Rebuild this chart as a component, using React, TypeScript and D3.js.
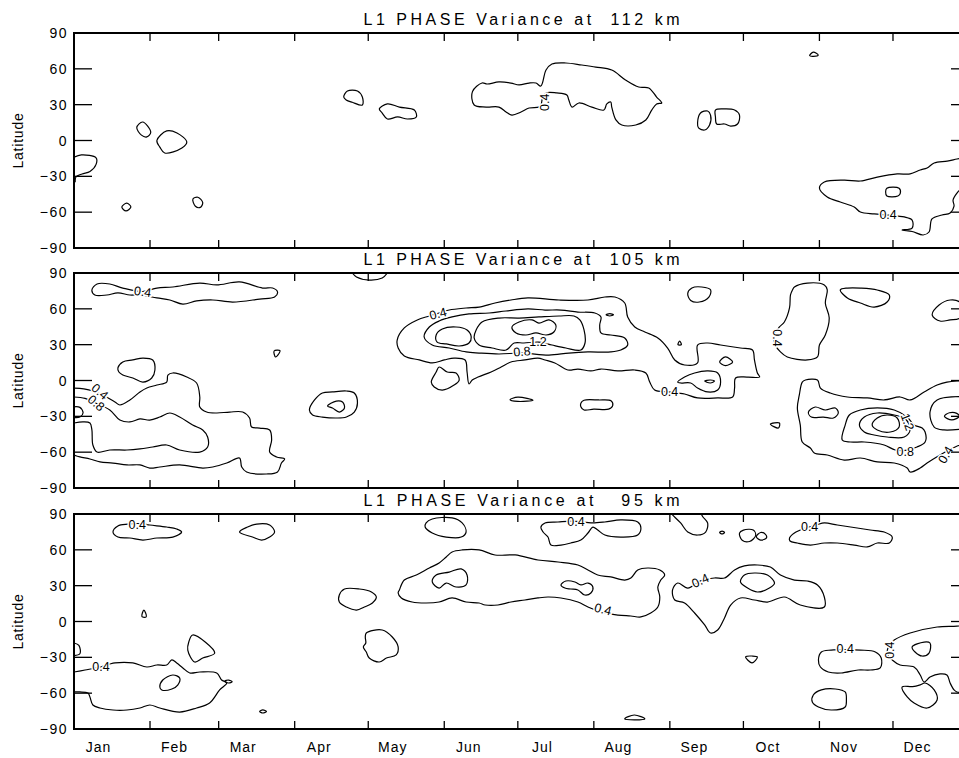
import React from 'react';
import * as d3 from 'd3';

type Pt = [number, number];
interface Contour { pts: Pt[]; open?: boolean }
interface Label { text: string; day: number; lat: number; angle: number }

const monthNames = ['Jan', 'Feb', 'Mar', 'Apr', 'May', 'Jun', 'Jul', 'Aug', 'Sep', 'Oct', 'Nov', 'Dec'];
const monthStarts = [0, 31, 59, 90, 120, 151, 181, 212, 243, 273, 304, 334];
const latTicks = [90, 60, 30, 0, -30, -60, -90];

// contours as [day of year, latitude]
const contours112: Contour[] = [
  { open: true, pts: [[0, -14], [3, -12], [9, -14.5], [9, -20], [6.5, -26], [3.3, -28], [0.8, -30.5], [0.5, -35]] },
  { pts: [[25.6, 11], [28, 15.5], [31.3, 7], [29.7, 3], [27.5, 4.5]] },
  { pts: [[33.8, 0], [37.8, 8], [42, 6.3], [46, -1.3], [44, -6.3], [37, -10.5], [35, -5.5]] },
  { pts: [[19.5, -55.7], [21.5, -52.5], [23.2, -55.7], [21.2, -59]] },
  { pts: [[48.5, -49], [50.5, -47.5], [52.5, -52], [51.5, -56], [49.5, -55]] },
  { pts: [[110, 36.4], [111.5, 41.4], [115.6, 41.4], [117.6, 36.4], [117.6, 29.7], [113.5, 32], [111, 34]] },
  { pts: [[124.5, 26.4], [127.8, 30.6], [132.7, 28], [138.8, 25.5], [139.6, 19.7], [136, 18], [132, 19.7], [127.8, 18], [125.7, 23]] },
  { pts: [[162.5, 40.9], [166.4, 48.1], [168.5, 47.3], [173.3, 49], [178.2, 48.1], [181.5, 46.5], [185.6, 48.1], [188.4, 48.1], [190.4, 45.6], [192.5, 59], [194.9, 64], [200.6, 64.9], [207.1, 63.2], [212.8, 61.5], [219.3, 59], [224.9, 50.7], [230.3, 44.8], [234.4, 44], [237.6, 36.4], [239.7, 31.4], [237.6, 30.6], [235.6, 25.5], [233.2, 17.2], [229.1, 13], [223.4, 13], [221, 17.2], [219.3, 28], [218.9, 32.2], [217.3, 30.6], [216.1, 25.5], [211.2, 28], [205.9, 31.4], [203.1, 28], [201.8, 33.9], [201, 38.1], [196.9, 39.8], [192.5, 39.8], [191, 35], [190.5, 30], [189.6, 28], [185.6, 27.2], [182.3, 23.9], [178.6, 21.3], [176.2, 23.9], [173.3, 28], [168.1, 28], [163.2, 29.7]] },
  { pts: [[254.3, 14.7], [255.5, 23], [258.4, 24.7], [259.6, 21.3], [259.2, 13], [257.2, 8.8], [254.7, 10.5]] },
  { pts: [[261.6, 25.5], [265.3, 26.4], [269.4, 25.5], [271.4, 21.3], [270.6, 13.8], [267.8, 12.1], [265.3, 13.8], [262.1, 13.8], [261.6, 19.7]] },
  { pts: [[300, 71], [301.5, 74], [303.5, 71.5], [301.5, 70.5]] },
  { open: true, pts: [[365, -13.5], [360.1, -15.5], [356.1, -17.2], [350.8, -18.8], [347.9, -23], [345.1, -24.7], [341, -28], [335.7, -28], [327.6, -30.6], [320.7, -33.9], [314.1, -33.1], [306, -34.7], [304, -39.8], [307.2, -47.3], [312.5, -51.5], [318.2, -55.7], [320.7, -59.9], [326.3, -61.5], [332, -62.5], [338.6, -64], [341.8, -66.6], [341.8, -73.3], [337.7, -74.9], [341.8, -76.2], [346.3, -79.1], [348.7, -76.6], [349.9, -65.7], [354, -62.4], [357.3, -60.7], [358.9, -55], [358.5, -49.8], [360.1, -44], [361.3, -41.4], [365, -39]] },
  { pts: [[331.5, -40], [336.5, -40], [337, -44], [336, -46.5], [331.5, -46.5], [331, -43]] },
];
const labels112: Label[] = [
  { text: '0.4', day: 192, lat: 32, angle: -90 },
  { text: '0.4', day: 332, lat: -62.5, angle: 0 },
];

const contours105: Contour[] = [
  { pts: [[7.3, 75.8], [9.4, 80.8], [14.6, 80.8], [19.9, 77.4], [28, 74.5], [33.8, 77.4], [40.3, 78.3], [51.3, 81.6], [58.2, 80], [67.5, 82.5], [76.9, 77.4], [81, 77.4], [83, 74.1], [81.8, 69.9], [75.7, 68.2], [64.7, 65.7], [56.6, 67.4], [50, 66.6], [44.4, 64], [39.1, 67.4], [33.8, 69.1], [26.9, 71.6], [22.8, 71.6], [17.9, 73.3], [13.4, 71.6], [8.5, 71.6]] },
  { open: true, pts: [[113.5, 90], [115.2, 86.7], [120.4, 84.1], [125.7, 85.8], [127.8, 90]] },
  { pts: [[81.6, 24.7], [84, 25], [83.2, 21.5], [82.2, 19.7]] },
  { pts: [[17.9, 10.5], [19.9, 15.5], [24, 17.2], [28.1, 18.8], [32.1, 17.2], [33, 8.8], [31.7, 2.1], [28.1, -1.3], [24, 2.1], [19.9, 4.6], [18.3, 7.1]] },
  { open: true, pts: [[0, -6.3], [4, -7], [8, -9], [12, -12.5], [16.7, -18], [18.7, -20.5], [22.8, -16.3], [26.9, -9.6], [29.7, -6.3], [33.8, -3.8], [37.8, -1.3], [38.3, 4.6], [40.3, 6.3], [46, 2.9], [50, -2.1], [51.3, -13.8], [51.3, -22.2], [54.1, -26.4], [58.2, -27.2], [63.5, -26.4], [68.8, -26.4], [71.6, -31.4], [72.4, -38.9], [75.7, -39.8], [79.8, -41.4], [80.6, -49.8], [79.8, -59.9], [82.6, -64], [85.9, -65.7], [84.6, -69.1], [83, -76.6], [78.5, -78.3], [70.4, -76.6], [68.4, -72.4], [67.5, -64.9], [62.3, -69.1], [56.6, -72.4], [52.5, -73.3], [43.1, -70.7], [35, -72.4], [30.9, -73.3], [26.9, -70.7], [21.6, -70.7], [15.9, -69.1], [10.6, -68.2], [6.5, -65.7], [2.4, -64], [0, -62.4]] },
  { open: true, pts: [[0, -13.8], [4.5, -15], [9, -19], [14.6, -24.7], [18.7, -33.1], [22.8, -34.7], [26.9, -32.2], [30.9, -33.1], [35, -30.6], [39.1, -27.2], [43.1, -30.6], [48.4, -37.3], [52.5, -41.4], [54.5, -47.3], [54.5, -55.7], [51.3, -59.9], [43.1, -58.2], [37.8, -54], [32.1, -55.7], [26.9, -57.3], [21.6, -58.2], [14.6, -58.2], [9.4, -59.9], [7.7, -54], [7.3, -41.4], [6.5, -35.6], [3.7, -34.7], [0, -35.6]] },
  { open: true, pts: [[0, -22], [2.4, -22.5], [3.7, -27], [2.4, -30.6], [0, -31]] },
  { pts: [[96, -24.7], [98.1, -16.3], [101.3, -10.5], [105.4, -9.6], [111.1, -8.8], [114.3, -10.5], [115.6, -18.8], [114.3, -26.4], [111.1, -30.6], [107, -31.4], [101.3, -30.6], [97.3, -28.9]] },
  { pts: [[103.4, -21.4], [107, -17.2], [109.5, -18], [110.3, -23], [108.2, -26.4], [105.4, -23]] },
  { pts: [[131.8, 33.9], [134.7, 44], [140, 50.7], [144.9, 54], [148.9, 56.5], [153, 59], [159.9, 60.7], [165.2, 61.5], [171.7, 64.9], [178.2, 67.4], [185.1, 69.1], [197.8, 67.4], [209.6, 67.4], [216.5, 69.9], [220.6, 69.9], [224.6, 64.9], [225.8, 53.2], [228.7, 44.8], [232.8, 40.6], [238.1, 35.6], [242.1, 27.2], [245, 17.2], [249, 13], [254.3, 14.7], [254.3, 29.7], [258.4, 31.4], [263.7, 29.7], [271.8, 27.2], [276.7, 25.5], [277.5, 17.2], [278.7, 6.3], [279.6, 2.9], [274.7, 2.9], [269.8, 2.1], [269.4, -6.3], [268.6, -13.8], [262.5, -14.6], [254.3, -14.6], [249, -11.3], [242.5, -9.6], [236.8, -8], [234.8, -1.3], [233.2, 6.3], [228.7, 8.8], [221.8, 8], [214.9, 9.6], [210.8, 8], [205.5, 9.6], [201.4, 8.8], [196.1, 14.7], [192.1, 17.2], [189.2, 18.8], [183.9, 17.2], [178.2, 15.5], [174.2, 11.3], [170.1, 7.1], [164.8, 2.9], [162.4, 0.4], [161.1, -2.9], [160.3, 7.1], [159.5, 17.2], [155, 18.8], [151, 17.2], [146.1, 14.7], [140.8, 17.2], [134.7, 20.5], [132.2, 27.2]] },
  { pts: [[142.8, 36.4], [144.9, 44.8], [148.9, 49.8], [154.2, 53.2], [161.1, 55.7], [169.3, 56.5], [176.2, 58.2], [185.1, 59.9], [192.1, 59], [198.6, 59], [205.5, 57.3], [212.4, 56.5], [214.9, 53.2], [214.4, 46.5], [214.9, 39.8], [218.9, 38.1], [224.6, 35.6], [225.8, 29.7], [223, 25.5], [218.9, 23.9], [209.6, 23.9], [201.8, 23], [193.7, 21.3], [182.7, 23], [173.3, 22.2], [165.2, 23], [159.9, 23.9], [153, 27.2], [146.1, 29.7]] },
  { pts: [[147.7, 38.1], [150.2, 43.1], [155.8, 44.8], [160.3, 42.3], [162, 36.4], [161.1, 31.4], [157.1, 28.9], [151.8, 30.6], [148.1, 32.2]] },
  { pts: [[163.2, 35.6], [164, 42.3], [166.4, 49], [173.3, 52.3], [181.5, 52.3], [189.6, 53.2], [197.8, 54], [203.9, 54], [206.3, 50.7], [208, 42.3], [208.4, 31.4], [206.7, 25.5], [200.6, 27.2], [194.9, 29.7], [189.6, 32.2], [183.5, 31.4], [179.5, 31.4], [176.2, 25.5], [170.5, 27.2], [165.2, 29.7]] },
  { pts: [[178.6, 44.8], [181.5, 49], [186.8, 50.7], [189.6, 48.1], [193.7, 50.7], [196.5, 46.5], [195.7, 40.6], [192.5, 38.1], [188.4, 39.8], [184.3, 38.1], [180.3, 39.8]] },
  { pts: [[145.7, -1.3], [147.7, 7.1], [148.9, 11.3], [152.2, 7.1], [155.8, 6.3], [157.1, 0.4], [155, -3.8], [150.2, -8], [146.9, -5.4]] },
  { pts: [[246.3, 30], [247, 33], [247.7, 30]] },
  { pts: [[217, 55], [218.5, 56], [220, 55], [218.5, 54]] },
  { pts: [[246.2, -1.3], [249, 2.9], [253.1, 6.3], [258.4, 8], [262.5, 6.3], [263.7, -1.3], [262.5, -8], [258.4, -9.6], [254.3, -6.3], [251.5, -2.1], [247.4, -2.1]] },
  { pts: [[257.2, -0.5], [259.5, 0.4], [261.2, -0.5], [259.5, -2.1]] },
  { pts: [[263.3, 15.5], [265.7, 19.7], [268.6, 15.5], [265.7, 12.5]] },
  { pts: [[177.8, -16], [181, -14], [187.2, -16.5], [181, -17.5]] },
  { pts: [[206.7, -19], [208, -16.5], [214, -16.3], [219, -17], [219.7, -21], [218, -24], [212, -24], [208, -24.7], [206.7, -22]] },
  { pts: [[250.3, 73], [252, 77.5], [256, 78.3], [259.6, 76], [259, 70], [255, 65.7], [251.5, 67]] },
  { pts: [[284, -36.5], [287.7, -35.6], [287.3, -39.8]] },
  { pts: [[293.8, 78.3], [299.1, 81.6], [306, 80], [307.2, 75.8], [306.4, 64.9], [308, 52.3], [306.4, 38.1], [304, 29.7], [303.2, 19.7], [299.1, 17.2], [290.9, 19.7], [288.1, 23.9], [286, 30], [285.5, 38], [287.7, 44.8], [289.7, 49], [291.8, 60.7], [292.2, 71.6], [293, 75.8]] },
  { pts: [[312.5, 75.8], [315.4, 77.4], [320.7, 77.4], [327.6, 75.8], [332.5, 71.6], [331.6, 65.7], [326.3, 61.5], [320.7, 64.9], [315.4, 69.1]] },
  { pts: [[350, 54.8], [352.8, 63.2], [357.3, 67.4], [361, 66], [363, 59], [361, 52], [357.3, 50.7], [353.2, 49.8]] },
  { open: true, pts: [[365, -0.5], [360.1, -0.4], [356, -1.3], [352, -3.8], [346.7, -9.6], [341, -16.3], [336.9, -13.8], [330.4, -16.3], [323.5, -14.6], [315.4, -13.8], [308.4, -10.5], [304.4, -6.3], [303.2, 0.4], [298.3, 0.4], [297, -1.3], [295.8, -12.1], [295, -23], [296.2, -37.3], [297, -51.5], [300.3, -56.5], [301.9, -60.7], [307.2, -62.4], [314.1, -66.6], [320.7, -64.9], [327.6, -68.2], [334.5, -69.1], [339.8, -73.3], [341, -76.6], [345.1, -73.3], [347.9, -69.1], [353.2, -62.4], [357, -58], [360, -55], [365, -52]] },
  { pts: [[299.5, -26.4], [302.3, -22.2], [306.4, -24.7], [310.5, -23], [311.7, -27.2], [309.7, -31.4], [305.6, -30.6], [300.7, -30.6]] },
  { pts: [[313.3, -49.8], [314.5, -37.3], [316.2, -28.9], [320.7, -24.7], [327.6, -23], [334.5, -24.7], [339.8, -30.6], [342.6, -37.3], [345.9, -39.8], [347.1, -43.1], [347.1, -51.5], [343.8, -55.7], [339, -58.5], [334.9, -58.2], [330.4, -54], [322.3, -51.5], [316.6, -51.5]] },
  { pts: [[320.3, -37.3], [322.3, -30.6], [327.6, -27.2], [334.5, -28.9], [339, -32], [341, -41], [338.6, -47.3], [331.6, -47.3], [326.3, -45.6], [322.3, -43.1]] },
  { pts: [[325.5, -37.3], [327.6, -31.4], [331.6, -28.9], [335.7, -31.4], [336.5, -38.9], [332.9, -43.1], [327.6, -41.4]] },
  { open: true, pts: [[365, -13.5], [352, -16.3], [349.1, -26.4], [350.8, -39], [354.8, -41.4], [365, -39.8]] },
  { pts: [[355, -30], [357, -27], [360, -27.5], [361, -30], [358, -33]] },
];
const labels105: Label[] = [
  { text: '0.4', day: 28, lat: 74, angle: 8 },
  { text: '0.4', day: 10.5, lat: -9.5, angle: 40 },
  { text: '0.8', day: 9, lat: -19, angle: 40 },
  { text: '0.4', day: 148.5, lat: 55.7, angle: -15 },
  { text: '1.2', day: 189.2, lat: 32.2, angle: 0 },
  { text: '0.8', day: 182.7, lat: 24, angle: -5 },
  { text: '0.4', day: 242.9, lat: -9.6, angle: 0 },
  { text: '0.4', day: 286.5, lat: 35.6, angle: 90 },
  { text: '1.2', day: 339.8, lat: -34.7, angle: 70 },
  { text: '0.8', day: 339, lat: -59.5, angle: 0 },
  { text: '0.4', day: 355.6, lat: -62.4, angle: -60 },
];

const contours95: Contour[] = [
  { pts: [[15.9, 74.9], [17.9, 80], [22, 81.5], [27, 82], [30.9, 80.8], [37.8, 79.1], [41.9, 77.4], [43.9, 74.9], [40.3, 70.7], [33.8, 69.9], [28.1, 68.2], [22.8, 69.9], [17.9, 70.7]] },
  { pts: [[67.5, 74.9], [70.8, 79.1], [74.5, 81.6], [79.8, 80.8], [81.8, 74.9], [79.8, 70.7], [76.5, 68.2], [72.8, 70.7]] },
  { pts: [[143.6, 82.5], [146.1, 85.8], [154.2, 86.7], [158.3, 82.5], [159.9, 74.9], [157.9, 70.7], [151.8, 70.7], [146.1, 74.1], [143.2, 79.1]] },
  { pts: [[190.4, 79.1], [192.1, 82.5], [197.4, 83.3], [203, 84], [208.8, 83], [211.6, 82.5], [216.5, 83.3], [223, 85], [229.9, 83.3], [231.2, 78.3], [229.9, 72.4], [223, 70.7], [216.5, 72.4], [213.6, 76.6], [211.6, 79], [209.6, 74.1], [206.7, 68.2], [202.6, 65.7], [198.6, 64], [194.5, 64], [193.3, 70.7], [191.3, 74.9]] },
  { open: true, pts: [[243.8, 90], [244.1, 89.2], [247.4, 82.5], [250.3, 74.9], [254.3, 72.4], [257.6, 74.9], [258.4, 82.5], [256.5, 87.5], [255.8, 90]] },
  { pts: [[263.3, 74.5], [264.3, 75.7], [265.3, 74.5], [264.3, 73.3]] },
  { pts: [[271.4, 74], [273, 76.5], [277, 76.6], [278, 72], [275.5, 67], [272.5, 68]] },
  { pts: [[278.3, 71], [280, 74.5], [282, 73], [282.4, 70], [280, 68.2]] },
  { pts: [[291.8, 69.9], [293.8, 74.1], [298, 78], [303, 81], [306, 82.5], [311.3, 80.8], [319.4, 78.3], [324.7, 76.6], [330.4, 74.9], [333.7, 70.7], [332.5, 65.7], [327.6, 65.7], [323.5, 62.4], [318.2, 64], [311.3, 65.7], [306, 65.7], [300.3, 64], [295, 65.7], [292, 67.4]] },
  { pts: [[132.7, 26.4], [134.7, 34.7], [139.6, 38.9], [144.9, 44.8], [148.9, 49], [151.8, 54], [154.2, 58.2], [158.3, 59.9], [165.2, 59.9], [171.7, 55.7], [179.9, 55.7], [189.2, 51.5], [197.4, 49.8], [205.5, 47.3], [209.6, 43.1], [213.6, 38.9], [218.9, 37.3], [224.6, 34.7], [227.1, 36.4], [229.9, 43.1], [234, 44.8], [238.9, 43.1], [240.9, 38.9], [239.3, 34.7], [238.1, 28.9], [238.9, 20.5], [238.1, 12.1], [235.2, 7.1], [231.2, 3.8], [227.1, 4.6], [221.8, 5.4], [215, 8], [209.6, 12.1], [205.5, 16.3], [198.6, 19.7], [193.3, 20.5], [189.2, 19.7], [183.9, 18], [178.2, 16.3], [172.9, 13.8], [167.7, 13.8], [165.2, 15.5], [159.9, 16.3], [154.2, 19.7], [148.9, 16.3], [143.6, 15.5], [137.9, 16.3], [133.5, 19.7], [132.2, 23.9]] },
  { pts: [[146.1, 33.1], [147.7, 38.9], [153, 41.4], [157.9, 44], [160.3, 38.9], [159.9, 30.6], [155.8, 28.9], [151.8, 32.2], [148.9, 28]] },
  { pts: [[198.6, 30.6], [200.6, 33.9], [204.3, 33.1], [206.7, 30.6], [209.6, 32.2], [211.6, 28.9], [210.8, 23.9], [208.3, 22.2], [205.5, 26.4], [202.6, 27.2], [200.2, 28]] },
  { pts: [[255.5, 34], [250.3, 28], [246.2, 32.2], [244.1, 26.4], [245, 18], [249, 15.5], [253.1, 7.1], [257.2, -2.9], [259.6, -9.6], [262.5, -7.1], [265.3, 3], [267.8, 13.8], [271.8, 19.7], [277.5, 18], [282.8, 16.3], [289.7, 20.5], [296.2, 13.8], [306, 12.1], [306, 20.5], [303.2, 30.6], [299.1, 33.9], [293.8, 34.7], [288.1, 38.9], [284, 45.6], [278.7, 47.3], [273.4, 46.5], [269.4, 43.1], [265.3, 36.4], [261.2, 36.4]] },
  { pts: [[271.8, 33.1], [273.4, 38.9], [277.5, 40.6], [282.8, 38.9], [285.7, 32.2], [283.6, 28], [278.7, 24.7], [274.7, 28]] },
  { pts: [[108.2, 22.2], [110.3, 27.2], [116.4, 27.2], [121.3, 24.7], [123.3, 20.5], [121.7, 15.5], [118.4, 12.1], [115.2, 9.6], [111.1, 12.1], [108.2, 16.3]] },
  { pts: [[119.2, -9.6], [125.7, -7.1], [129.8, -13], [132.2, -21.3], [131.4, -28], [127.4, -30.6], [124.5, -33.9], [120.4, -30.6], [119.2, -25.5], [118, -21.3], [119, -18], [118.8, -13]] },
  { pts: [[48.4, -11.3], [57.4, -26.4], [52.5, -30.6], [49.2, -33.9], [46.4, -23.9], [46.8, -17.2]] },
  { pts: [[27.7, 4], [28.5, 9.6], [29.5, 4]] },
  { open: true, pts: [[0, -18], [2, -20], [2.4, -27], [0, -28.5]] },
  { open: true, pts: [[0, -42.3], [4.5, -40.6], [10, -38.5], [16.7, -34.7], [24, -34.7], [29.7, -38.1], [33.8, -36.4], [37.8, -36.4], [39.9, -32.2], [41.9, -34.7], [44.4, -38.9], [47.2, -43.1], [51.3, -42.3], [58.2, -43.1], [60.2, -49], [62.3, -51.5], [59.4, -57.3], [55.3, -68.2], [50, -72.4], [43.1, -75.8], [35, -72.4], [30.9, -69.9], [26.9, -72.4], [21.6, -74.1], [15.9, -74.1], [10.6, -72.4], [7.7, -69.9], [6.5, -63.2], [5.7, -59.9], [2.4, -59], [0, -59]] },
  { pts: [[61.5, -50], [63, -49], [64.5, -50.5], [63, -51.5]] },
  { pts: [[35, -54.8], [36.2, -49], [40.3, -44.8], [43.1, -47.3], [42.3, -53.2], [39.9, -56.5], [35.8, -57.3]] },
  { pts: [[75.7, -75.3], [77, -74], [78.5, -75.3], [77, -76.6]] },
  { pts: [[224.6, -81.5], [228.5, -78.3], [232.8, -81.5], [228.5, -82.3]] },
  { pts: [[273.9, -29.5], [276.5, -28.9], [278.7, -29.7], [276.5, -34.7]] },
  { pts: [[303.6, -32.2], [304.8, -25.5], [308.8, -23.9], [315, -23.5], [320.7, -23.9], [326.8, -25.5], [329.2, -30.6], [328.8, -38.9], [324.7, -40.6], [319.8, -40.6], [312.9, -43.1], [307.6, -42.3], [304.4, -38.1]] },
  { pts: [[301.5, -61.5], [304.8, -57.3], [310.5, -56.5], [314.5, -59], [315, -65.7], [314.5, -71.6], [308.8, -74.1], [303.6, -71.6], [301.1, -67.4]] },
  { open: true, pts: [[365, -2.5], [360.1, -3.8], [352, -4.6], [341, -9.6], [334.5, -15.5], [332.5, -20], [331.6, -27], [333.7, -32.2], [336.9, -36.4], [342.6, -38.1], [345.1, -44.8], [346.7, -50.7], [349.1, -46.5], [353.2, -43.9], [356, -44.8], [357.3, -51.5], [358.9, -57.3], [360.1, -59], [365, -59.5]] },
  { pts: [[337.7, -54.8], [339.8, -63.2], [342.6, -68.2], [347.9, -72.4], [352, -65.7], [350.8, -57.3], [347.1, -51.5], [345.1, -53], [342, -54.5]] },
  { pts: [[341.8, -21.3], [346.7, -17.2], [349.1, -18], [348.7, -26.4], [345.9, -28.9], [343, -25.5]] },
  { open: true, pts: [[365, -28], [362, -30], [361.3, -35], [363, -40], [365, -41]] },
];
const labels95: Label[] = [
  { text: '0.4', day: 25.8, lat: 81, angle: 0 },
  { text: '0.4', day: 11, lat: -38.1, angle: 0 },
  { text: '0.4', day: 204.7, lat: 83, angle: 0 },
  { text: '0.4', day: 215.7, lat: 10, angle: 15 },
  { text: '0.4', day: 255.5, lat: 34, angle: -25 },
  { text: '0.4', day: 300, lat: 79, angle: 0 },
  { text: '0.4', day: 314.5, lat: -23, angle: 0 },
  { text: '0.4', day: 332.8, lat: -24, angle: -90 },
];

const panels = [
  { title: 'L1 PHASE Variance at  112 km', top: 33, contours: contours112, labels: labels112 },
  { title: 'L1 PHASE Variance at  105 km', top: 273, contours: contours105, labels: labels105 },
  { title: 'L1 PHASE Variance at   95 km', top: 514, contours: contours95, labels: labels95 },
];

const PH = 215;
const x = d3.scaleLinear().domain([0, 365]).range([74, 969]);

interface PanelProps {
  idx: number;
  title: string;
  top: number;
  contours: Contour[];
  labels: Label[];
  showMonths: boolean;
}

const Panel: React.FC<PanelProps> = ({ idx, title, top, contours, labels, showMonths }) => {
  const y = d3.scaleLinear().domain([-90, 90]).range([top + PH, top]);
  const closedLine = d3.line<Pt>().x(d => x(d[0])).y(d => y(d[1])).curve(d3.curveCatmullRomClosed.alpha(0.5));
  const openLine = d3.line<Pt>().x(d => x(d[0])).y(d => y(d[1])).curve(d3.curveCatmullRom.alpha(0.5));
  const [x0, x1] = x.range();
  const clipId = `clip-${idx}`;

  return (
    <g>
      <defs>
        <clipPath id={clipId}>
          <rect x={x0} y={top} width={x1 - x0} height={PH} />
        </clipPath>
      </defs>

      <text x={(x0 + x1) / 2} y={top - 8} textAnchor="middle" fontSize={16}
        textLength={316} lengthAdjust="spacing" style={{ whiteSpace: 'pre' }}>{title}</text>

      <g clipPath={`url(#${clipId})`} fill="none" stroke="#000" strokeWidth={1.2}>
        {contours.map((c, i) => (
          <path key={i} d={(c.open ? openLine(c.pts) : closedLine(c.pts)) || ''} />
        ))}
      </g>

      {labels.map((l, i) => (
        <text key={i} transform={`translate(${x(l.day)},${y(l.lat)}) rotate(${l.angle})`}
          textAnchor="middle" dominantBaseline="central" fontSize={12.5}
          stroke="#fff" strokeWidth={3} paintOrder="stroke" fill="#000">{l.text}</text>
      ))}

      {/* frame */}
      <rect x={x0} y={top} width={x1 - x0} height={PH} fill="none" stroke="#000" strokeWidth={2} />

      {latTicks.map(t => (
        <g key={t}>
          <line x1={x0} x2={x0 + 18} y1={y(t)} y2={y(t)} stroke="#000" strokeWidth={1.3} />
          <line x1={x1 - 18} x2={x1} y1={y(t)} y2={y(t)} stroke="#000" strokeWidth={1.3} />
          <text x={68} y={y(t)} textAnchor="end" dominantBaseline="central" fontSize={14} letterSpacing={1.5}>
            {t < 0 ? `\u2212${-t}` : `${t}`}
          </text>
        </g>
      ))}

      {monthStarts.slice(1).map(m => (
        <g key={m}>
          <line x1={x(m)} x2={x(m)} y1={top} y2={top + 8} stroke="#000" strokeWidth={1.3} />
          <line x1={x(m)} x2={x(m)} y1={top + PH - 8} y2={top + PH} stroke="#000" strokeWidth={1.3} />
        </g>
      ))}

      <text transform={`translate(23,${top + PH / 2}) rotate(-90)`} textAnchor="middle" fontSize={14} letterSpacing={0.8}>Latitude</text>

      {showMonths && monthNames.map((n, i) => (
        <text key={n} x={x(monthStarts[i] + 10)} y={top + PH + 23} textAnchor="middle" fontSize={14} letterSpacing={1}>{n}</text>
      ))}
    </g>
  );
};

const App: React.FC = () => (
  <svg width={959} height={758} style={{ position: 'absolute', left: 0, top: 0, background: '#fff' }}
    fontFamily="'Liberation Sans', Arial, sans-serif">
    {panels.map((p, i) => (
      <Panel key={i} idx={i} title={p.title} top={p.top} contours={p.contours} labels={p.labels} showMonths={i === 2} />
    ))}
  </svg>
);

export default App;
